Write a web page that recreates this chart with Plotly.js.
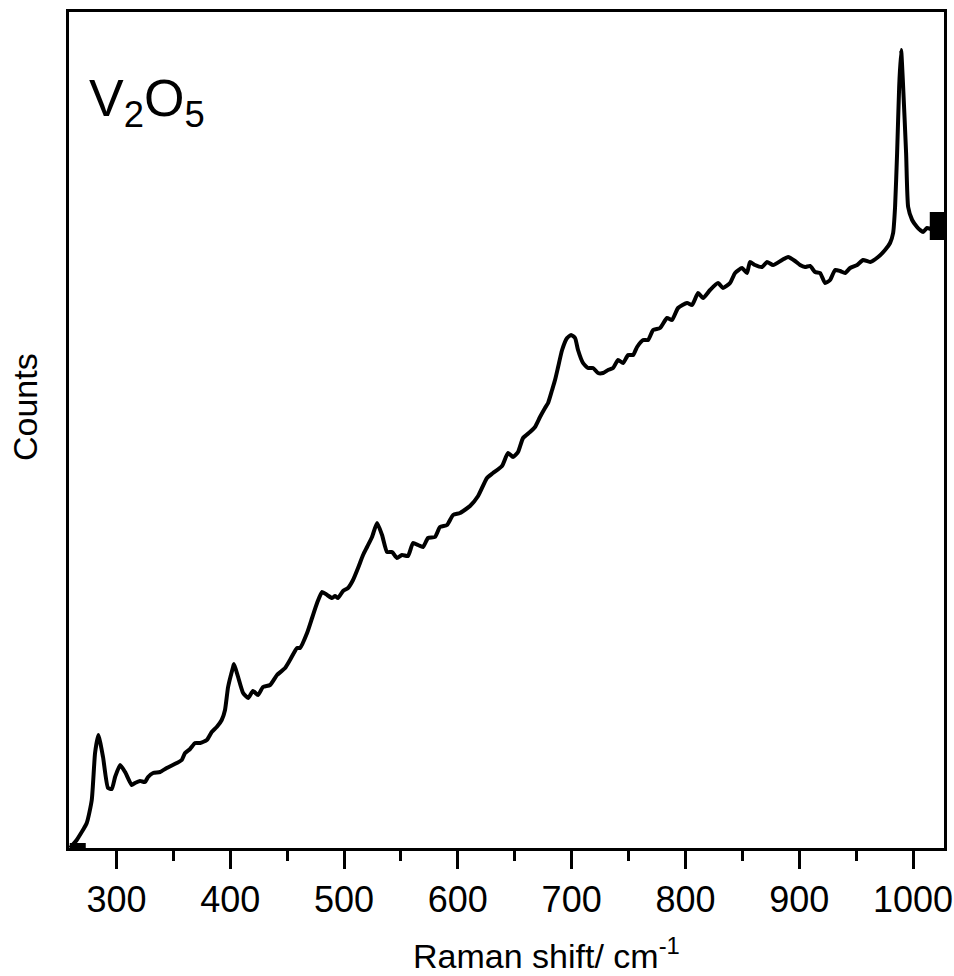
<!DOCTYPE html>
<html>
<head>
<meta charset="utf-8">
<script src="https://cdn.plot.ly/plotly-3.0.1.min.js"></script>
<style>html,body{margin:0;padding:0;background:#fff;}#chart{width:954px;height:976px;}</style>
</head>
<body>
<div id="chart"></div>
<script>
// Raman shift (cm-1)
const ramanShift = [259.2,265.1,273.9,278.3,281.2,284.1,288.2,292.6,295.9,298.8,303.2,307.6,313.4,316.3,320.7,325.1,327.8,332.2,338.3,344.2,353.0,357.4,360.3,364.7,369.1,373.5,379.4,383.7,388.1,392.5,395.4,398.1,402.5,403.3,406.9,411.3,415.7,420.0,424.4,428.8,435.0,441.1,448.2,452.5,458.7,461.3,467.5,471.9,476.3,480.7,485.1,489.5,492.1,494.7,499.1,503.5,507.9,512.3,516.7,520.2,524.6,529.0,533.4,537.8,542.2,546.5,550.9,556.2,560.6,565.0,569.4,573.8,579.9,584.3,590.5,595.8,601.9,610.7,617.8,625.6,630.9,638.8,644.1,648.5,652.9,657.3,663.4,667.8,672.2,676.6,679.3,682.8,685.4,688.1,691.6,696.0,699.5,703.0,705.6,710.0,714.4,718.8,723.2,727.6,732.0,736.4,740.8,745.2,749.6,754.0,757.5,762.8,767.2,771.6,777.7,783.8,788.2,793.5,801.4,805.8,811.1,815.5,821.6,828.6,833.0,839.2,843.6,849.7,854.1,856.7,861.1,867.3,871.7,877.0,884.9,890.2,896.3,900.7,905.1,909.5,913.9,918.3,922.7,927.1,931.5,935.9,940.3,944.7,950.9,956.1,962.3,969.3,975.4,979.8,982.5,984.2,986.0,987.8,989.5,991.3,993.9,995.7,999.2,1003.5,1006.2,1008.8,1012.3,1016.0,1020.0,1027.0];
// Counts (arbitrary units)
const counts = [0,80,250,480,950,1130,910,600,590,710,830,760,630,650,670,660,710,750,760,800,850,880,950,990,1050,1050,1080,1160,1210,1280,1380,1610,1810,1840,1710,1550,1500,1570,1530,1610,1630,1730,1800,1880,2000,2000,2150,2300,2450,2560,2530,2500,2520,2500,2570,2600,2680,2800,2930,3010,3110,3250,3130,2960,2960,2900,2930,2920,3050,3030,3010,3100,3110,3210,3230,3330,3350,3420,3520,3700,3750,3820,3950,3910,3960,4100,4160,4210,4310,4400,4450,4580,4680,4810,4980,5100,5130,5100,4980,4850,4800,4800,4750,4750,4780,4800,4880,4850,4930,4930,5010,5080,5080,5180,5200,5300,5280,5400,5450,5430,5550,5500,5580,5650,5600,5650,5750,5800,5750,5860,5830,5810,5860,5830,5880,5910,5870,5830,5810,5820,5760,5750,5650,5680,5780,5770,5750,5800,5830,5880,5860,5910,5980,6050,6150,6410,6950,7610,7980,7610,6950,6410,6280,6210,6180,6160,6200,6190,6210,6220];
// End-point markers
const endMarkX = [266, 1027];
const endMarkY = [-30, 6220];
const endMarkSize = [16, 28];
const xTickVals = [300,400,500,600,700,800,900,1000];
const xTickText = ["300","400","500","600","700","800","900","1000"];

const font = "Liberation Sans, Arial, sans-serif";
const tickFont = "Liberation Sans Narrow, Arial Narrow, Liberation Sans, sans-serif";
const traces = [
  {x: ramanShift, y: counts, type: 'scatter', mode: 'lines',
   line: {color: '#000', width: 4, shape: 'spline', smoothing: 0.5}, showlegend: false, hoverinfo: 'skip'},
  {x: endMarkX, y: endMarkY, type: 'scatter', mode: 'markers', opacity: 1,
   marker: {symbol: 'square', color: '#000', opacity: 1, size: endMarkSize, line: {width: 0}},
   cliponaxis: true, showlegend: false, hoverinfo: 'skip'}
];
const layout = {
  width: 954, height: 976,
  margin: {l: 69, r: 10, t: 12, b: 128},
  paper_bgcolor: '#fff', plot_bgcolor: '#fff',
  font: {family: font, color: '#000', size: 32},
  xaxis: {
    range: [258.3, 1027.2], showgrid: false, zeroline: false,
    showline: true, linecolor: '#000', linewidth: 3, mirror: true,
    tickmode: 'array', tickvals: xTickVals, ticktext: xTickText,
    ticks: 'outside', ticklen: 18, tickwidth: 3, tickcolor: '#000',
    tickfont: {family: tickFont, size: 36, color: '#000'},
    minor: {dtick: 50, tick0: 250, ticks: 'outside', ticklen: 10, tickwidth: 3, tickcolor: '#000', showgrid: false}
  },
  yaxis: {
    range: [0, 8360], showgrid: false, zeroline: false,
    showline: true, linecolor: '#000', linewidth: 3, mirror: true,
    ticks: '', showticklabels: false
  },
  annotations: [
    {text: 'V<sub>2</sub>O<sub>5</sub>', xref: 'paper', yref: 'paper',
     x: 0.021, y: 0.934, xanchor: 'left', yanchor: 'top', showarrow: false,
     font: {family: font, size: 52, color: '#000'}},
    {text: 'Raman shift/ cm<sup>-1</sup>', xref: 'paper', yref: 'paper',
     x: 0.546, y: -0.1256, xanchor: 'center', yanchor: 'middle', showarrow: false,
     font: {family: font, size: 34, color: '#000'}},
    {text: 'Counts', xref: 'paper', yref: 'paper', textangle: -90,
     x: -0.0503, y: 0.5275, xanchor: 'center', yanchor: 'middle', showarrow: false,
     font: {family: font, size: 34, color: '#000'}}
  ]
};
Plotly.newPlot('chart', traces, layout, {displayModeBar: false, staticPlot: true});
</script>
</body>
</html>
